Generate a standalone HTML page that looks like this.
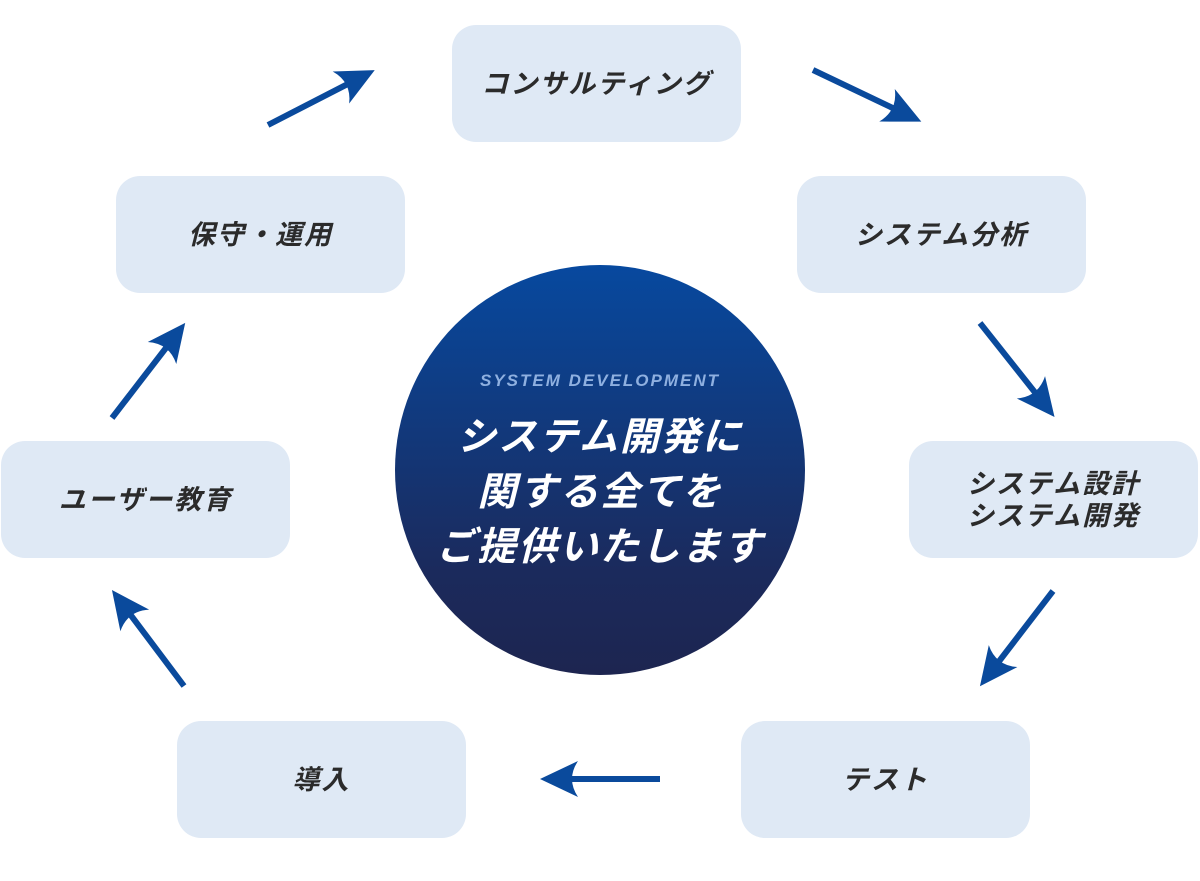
<!DOCTYPE html>
<html><head><meta charset="utf-8"><style>
html,body{margin:0;padding:0;background:#fff;}
.wrap{position:relative;width:1200px;height:881px;overflow:hidden;font-family:"Liberation Sans","Noto Sans CJK JP",sans-serif;}
.box{position:absolute;width:289px;height:117px;background:#dfe9f5;border-radius:24px;display:flex;align-items:center;justify-content:center;text-align:center;font-weight:bold;font-style:italic;font-size:27px;color:#2b2b2b;line-height:32px;letter-spacing:2px;}
.circle{position:absolute;left:395px;top:265px;width:410px;height:410px;border-radius:50%;background:linear-gradient(#07499f,#1b2a5c 75%,#1d2550);color:#fff;text-align:center;}
.en{position:absolute;top:106px;width:100%;font-size:17px;font-style:italic;font-weight:bold;color:#8fb0e0;letter-spacing:2px;}
.jp{position:absolute;top:145px;width:100%;font-size:39px;font-weight:bold;font-style:italic;line-height:55px;letter-spacing:2px;}
svg{position:absolute;left:0;top:0;}
</style></head><body><div class="wrap">
<div class="box" style="left:452px;top:25px">コンサルティング</div>
<div class="box" style="left:797px;top:176px">システム分析</div>
<div class="box" style="left:116px;top:176px">保守・運用</div>
<div class="box" style="left:1px;top:441px">ユーザー教育</div>
<div class="box" style="left:909px;top:441px">システム設計<br>システム開発</div>
<div class="box" style="left:177px;top:721px">導入</div>
<div class="box" style="left:741px;top:721px">テスト</div>
<div class="circle"><div class="en">SYSTEM DEVELOPMENT</div><div class="jp">システム開発に<br>関する全てを<br>ご提供いたします</div></div>
<svg width="1200" height="881" fill="#0a4a9c" stroke="#0a4a9c">
<defs><g id="a"><line x1="0" y1="0" x2="95" y2="0" stroke-width="6"/><path d="M120,0 L82,-18 Q94,0 82,18 Z" stroke="none"/></g></defs>
<use href="#a" transform="translate(268,125) rotate(-27.2)"/>
<use href="#a" transform="translate(813,70) rotate(25.5)"/>
<use href="#a" transform="translate(980,323) rotate(51.6)"/>
<use href="#a" transform="translate(1053,591) rotate(127.5)"/>
<use href="#a" transform="translate(660,779) rotate(180)"/>
<use href="#a" transform="translate(184,686) rotate(233.1)"/>
<use href="#a" transform="translate(112,418) rotate(-52.4)"/>
</svg>
</div></body></html>
